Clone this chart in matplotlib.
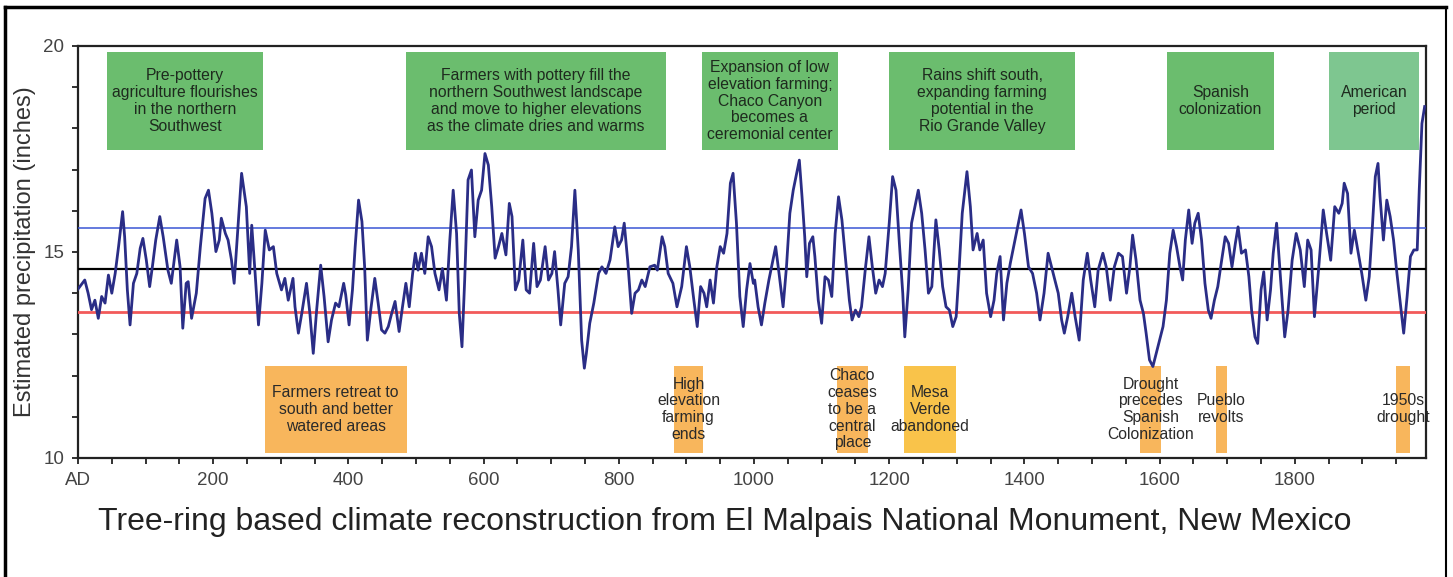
import matplotlib
matplotlib.use('Agg')
import matplotlib.pyplot as plt
from matplotlib.patches import Rectangle
from matplotlib.lines import Line2D

plt.rcParams['font.family'] = ['Liberation Sans', 'DejaVu Sans']

# precipitation reconstruction (year, inches)
years = [0, 10, 15, 20, 25, 30, 35, 40, 45, 50, 55, 60, 66, 69, 73, 77, 82, 87, 92, 96,
         101, 106, 110, 115, 121, 126, 133, 138, 146, 151, 155, 160, 163, 168, 175, 181, 188, 193, 198,
         204, 209, 212, 218, 222, 227, 231, 236, 242, 249, 254, 257, 262, 267, 272, 277, 283, 289, 294,
         301, 306, 311, 318, 321, 326, 331, 338, 343, 348, 353, 359, 364, 370, 375, 381, 386, 393, 396,
         401, 406, 410, 415, 420, 424, 428, 433, 439, 444, 449, 454, 459, 464, 469, 475, 480, 485, 490, 495, 499,
         503, 508, 513, 518, 523, 528, 534, 539, 545, 550, 555, 560, 564, 568, 572, 577, 582, 587, 592, 597,
         602, 607, 612, 617, 622, 627, 633, 638, 642, 647, 652, 658, 663, 668, 674, 679, 684, 691, 696,
         701, 705, 710, 714, 720, 725, 730, 735, 740, 745, 749, 752, 757, 763, 770, 775, 781, 787, 794, 799,
         804, 808, 813, 819, 824, 829, 834, 839, 846, 853, 857, 864, 868, 873, 880, 886, 893, 900,
         905, 911, 916, 921, 926, 930, 935, 940, 945, 950, 955, 960, 965, 969, 974, 979, 984, 989, 994, 999,
         1001, 1006, 1011, 1016, 1022, 1027, 1032, 1037, 1043, 1048, 1053, 1058, 1063, 1067, 1071, 1075, 1078,
         1082, 1087, 1090, 1095, 1100, 1105, 1110, 1115, 1120, 1125, 1130, 1135, 1141, 1145, 1150, 1155, 1159,
         1165, 1170, 1175, 1180, 1185, 1190, 1194, 1200, 1205, 1210, 1215, 1220, 1223, 1228, 1233, 1238, 1243,
         1248, 1253, 1258, 1263, 1269, 1274, 1279, 1284, 1289, 1294, 1299, 1303, 1308, 1315, 1320,
         1324, 1330, 1334, 1339, 1344, 1350, 1355, 1359, 1364, 1369, 1374, 1379, 1384, 1389, 1395, 1400,
         1406, 1412, 1418, 1423, 1429, 1435, 1440, 1445, 1450, 1455, 1459, 1464, 1470, 1475, 1481, 1487, 1493, 1498,
         1504, 1509, 1516, 1521, 1527, 1533, 1539, 1545, 1551, 1556, 1560, 1565, 1571, 1576, 1580, 1585, 1590, 1595,
         1600, 1605, 1610, 1615, 1620, 1625, 1630, 1634, 1638, 1643, 1648, 1652,
         1657, 1662, 1667, 1672, 1676, 1681, 1686, 1691, 1697, 1702, 1707, 1712, 1716, 1721, 1727, 1732, 1736,
         1741, 1745, 1750, 1754, 1759, 1764, 1768, 1773, 1778, 1785, 1790, 1796, 1802, 1808, 1814, 1819, 1824,
         1829, 1835, 1842, 1847, 1853, 1859, 1865, 1870, 1873, 1878, 1883, 1888, 1893, 1899, 1905, 1910, 1915,
         1919, 1923, 1926, 1931, 1936, 1941, 1946, 1951, 1956, 1961, 1966, 1971, 1976, 1981, 1984, 1988, 1992]
precip = [14.1, 14.32, 14.0, 13.6, 13.83, 13.39, 13.92, 13.76, 14.44, 14.0, 14.48, 15.13, 15.98, 15.37, 14.08, 13.23, 14.24, 14.48, 15.09, 15.33,
          14.81, 14.16, 14.64, 15.29, 15.86, 15.37, 14.56, 14.24, 15.29, 14.64, 13.15, 14.24, 14.28, 13.39, 14.0, 15.13, 16.3, 16.5, 15.94,
          15.01, 15.29, 15.82, 15.45, 15.29, 14.81, 14.24, 15.45, 16.91, 16.1, 14.48, 15.65, 14.48, 13.23, 14.24, 15.53, 15.05, 15.13, 14.48,
          14.08, 14.36, 13.83, 14.36, 13.67, 13.03, 13.51, 14.24, 13.51, 12.54, 13.59, 14.68, 13.92, 12.82, 13.35, 13.76, 13.67, 14.24, 13.96,
          13.23, 14.08, 15.13, 16.26, 15.74, 14.64, 12.86, 13.59, 14.36, 13.76, 13.11, 13.03, 13.19, 13.51, 13.8, 13.07, 13.67, 14.24, 13.67, 14.48, 14.97,
          14.56, 14.97, 14.48, 15.37, 15.13, 14.48, 14.08, 14.6, 13.83, 15.29, 16.5, 15.45, 13.51, 12.7, 14.32, 16.75, 16.99, 15.37, 16.26, 16.5,
          17.39, 17.11, 16.1, 14.85, 15.13, 15.45, 14.93, 16.18, 15.86, 14.08, 14.32, 15.29, 14.08, 14.0, 15.21, 14.16, 14.32, 15.13, 14.32,
          14.48, 15.01, 14.08, 13.23, 14.24, 14.4, 15.13, 16.5, 15.05, 12.86, 12.18, 12.54, 13.27, 13.76, 14.48, 14.64, 14.48, 14.81, 15.61, 15.13,
          15.29, 15.7, 14.81, 13.51, 14.0, 14.08, 14.32, 14.16, 14.64, 14.68, 14.56, 15.37, 15.13, 14.48, 14.24, 13.67, 14.16, 15.13,
          14.64, 13.83, 13.19, 14.16, 14.0, 13.67, 14.32, 13.76, 14.64, 15.13, 14.97, 15.45, 16.67, 16.91, 15.7, 13.92, 13.19, 14.08, 14.72, 14.24,
          14.32, 13.67, 13.23, 13.76, 14.32, 14.72, 15.13, 14.48, 13.67, 14.64, 15.94, 16.5, 16.91, 17.23, 16.34, 15.37, 14.4,
          15.21, 15.37, 14.89, 13.83, 13.27, 14.4, 14.32, 13.92, 15.45, 16.34, 15.78, 14.89, 13.83, 13.35, 13.59, 13.43, 13.67,
          14.64, 15.37, 14.64, 14.0, 14.32, 14.16, 14.48, 15.7, 16.83, 16.5, 15.21, 14.0, 12.94, 14.08, 15.7, 16.1, 16.5,
          15.94, 15.05, 14.0, 14.16, 15.78, 15.05, 14.16, 13.67, 13.59, 13.19, 13.43, 14.48, 15.94, 16.95, 16.1,
          15.05, 15.45, 15.05, 15.29, 14.0, 13.43, 13.83, 14.48, 14.89, 13.35, 14.24, 14.72, 15.13, 15.53, 16.02, 15.45,
          14.64, 14.48, 14.0, 13.35, 14.0, 14.97, 14.64, 14.32, 14.0, 13.35, 13.03, 13.43, 14.0, 13.43, 12.86, 14.32, 14.97, 14.32,
          13.67, 14.56, 14.97, 14.64, 13.83, 14.64, 14.97, 14.89, 14.0, 14.64, 15.41, 14.81, 13.83, 13.51, 13.03, 12.38, 12.22, 12.54,
          12.86, 13.19, 13.83, 14.97, 15.53, 15.13, 14.64, 14.32, 15.29, 16.02, 15.21, 15.7,
          15.94, 15.29, 14.24, 13.59, 13.39, 13.83, 14.16, 14.72, 15.37, 15.21, 14.64, 15.21, 15.61, 14.97, 15.05, 14.4, 13.59,
          12.94, 12.78, 14.08, 14.52, 13.35, 14.08, 14.97, 15.7, 14.56, 12.94, 13.59, 14.8, 15.45, 15.05, 14.16, 15.29, 15.05,
          13.43, 14.56, 16.02, 15.45, 14.8, 16.1, 15.94, 16.18, 16.67, 16.42, 14.97, 15.53, 15.05, 14.48, 13.83, 14.4, 15.7,
          16.83, 17.15, 16.34, 15.29, 16.26, 15.86, 15.29, 14.48, 13.75, 13.03, 13.91, 14.89, 15.05, 15.05, 16.5, 18.12, 18.53]

mean_line = 14.58
upper_line = 15.58
lower_line = 13.55

# period boxes: (start, end, label)
green_periods = [
    (43, 274, 'Pre-pottery\nagriculture flourishes\nin the northern\nSouthwest'),
    (485, 870, 'Farmers with pottery fill the\nnorthern Southwest landscape\nand move to higher elevations\nas the climate dries and warms'),
    (923, 1124, 'Expansion of low\nelevation farming;\nChaco Canyon\nbecomes a\nceremonial center'),
    (1200, 1475, 'Rains shift south,\nexpanding farming\npotential in the\nRio Grande Valley'),
    (1611, 1769, 'Spanish\ncolonization'),
    (1851, 1984, 'American\nperiod'),
]
green_colors = ['#6bbd6e', '#6bbd6e', '#6bbd6e', '#6bbd6e', '#6bbd6e', '#7ec690']

orange_events = [
    (276, 486, 'Farmers retreat to\nsouth and better\nwatered areas'),
    (882, 924, 'High\nelevation\nfarming\nends'),
    (1122, 1169, 'Chaco\nceases\nto be a\ncentral\nplace'),
    (1222, 1299, 'Mesa\nVerde\nabandoned'),
    (1571, 1602, 'Drought\nprecedes\nSpanish\nColonization'),
    (1683, 1699, 'Pueblo\nrevolts'),
    (1949, 1971, '1950s\ndrought'),
]
orange_colors = ['#f8b65c', '#f8b65c', '#f8b65c', '#f9c34a', '#f8b65c', '#f8b65c', '#f8b65c']

xtick_pos = [0, 200, 400, 600, 800, 1000, 1200, 1400, 1600, 1800]
xtick_lab = ['AD', '200', '400', '600', '800', '1000', '1200', '1400', '1600', '1800']

fig = plt.figure(figsize=(14.53, 5.77), dpi=100)
ax = fig.add_axes([78 / 1453, 119 / 577, 1348 / 1453, 412 / 577])

for (a, b, txt), c in zip(green_periods, green_colors):
    ax.add_patch(Rectangle((a, 17.48), b - a, 19.85 - 17.48, facecolor=c, edgecolor='none', zorder=1))
    ax.text((a + b) / 2, (17.48 + 19.85) / 2, txt, ha='center', va='center', fontsize=11.3,
            color='#1e2a1e', linespacing=1.15, zorder=2)

for (a, b, txt), c in zip(orange_events, orange_colors):
    ax.add_patch(Rectangle((a, 10.12), b - a, 12.24 - 10.12, facecolor=c, edgecolor='none', zorder=1))
    ax.text((a + b) / 2, (10.12 + 12.24) / 2, txt, ha='center', va='center', fontsize=11.3,
            color='#2a2a2a', linespacing=1.15, zorder=2)

ax.axhline(upper_line, color='#3a56d4', lw=1.1, zorder=3)
ax.axhline(mean_line, color='black', lw=1.6, zorder=3)
ax.axhline(lower_line, color='#f25a5a', lw=2.0, zorder=3)
ax.plot(years, precip, color='#2a2d86', lw=2.0, zorder=4)

ax.set_xlim(0, 1994)
ax.set_ylim(10, 20)
ax.set_xticks(range(0, 1994, 50), minor=True)
ax.set_xticks(xtick_pos)
ax.set_xticklabels(xtick_lab)
ax.set_yticks(range(10, 21), minor=True)
ax.set_yticks([10, 15, 20])
ax.tick_params(axis='both', which='both', direction='out', length=4, width=1.3, color='#222222')
ax.tick_params(axis='both', which='major', labelsize=13.5, labelcolor='#444444', pad=6)
for s in ax.spines.values():
    s.set_linewidth(1.6)
    s.set_color('#222222')

ax.set_ylabel('Estimated precipitation (inches)', fontsize=17, color='#333333')
ax.yaxis.set_label_coords(-0.031, 0.5)
fig.text(0.499, 0.095, 'Tree-ring based climate reconstruction from El Malpais National Monument, New Mexico',
         ha='center', va='center', fontsize=23, color='#222222')

# outer frame (no bottom edge visible)
fig.add_artist(Line2D([5 / 1453, 5 / 1453], [0, 1 - 7 / 577], transform=fig.transFigure, color='black', lw=2.5))
fig.add_artist(Line2D([5 / 1453, 1446 / 1453], [1 - 7 / 577, 1 - 7 / 577], transform=fig.transFigure, color='black', lw=2.5))
fig.add_artist(Line2D([1446 / 1453, 1446 / 1453], [0, 1 - 7 / 577], transform=fig.transFigure, color='black', lw=1.5))

fig.savefig('out.png', dpi=100)
